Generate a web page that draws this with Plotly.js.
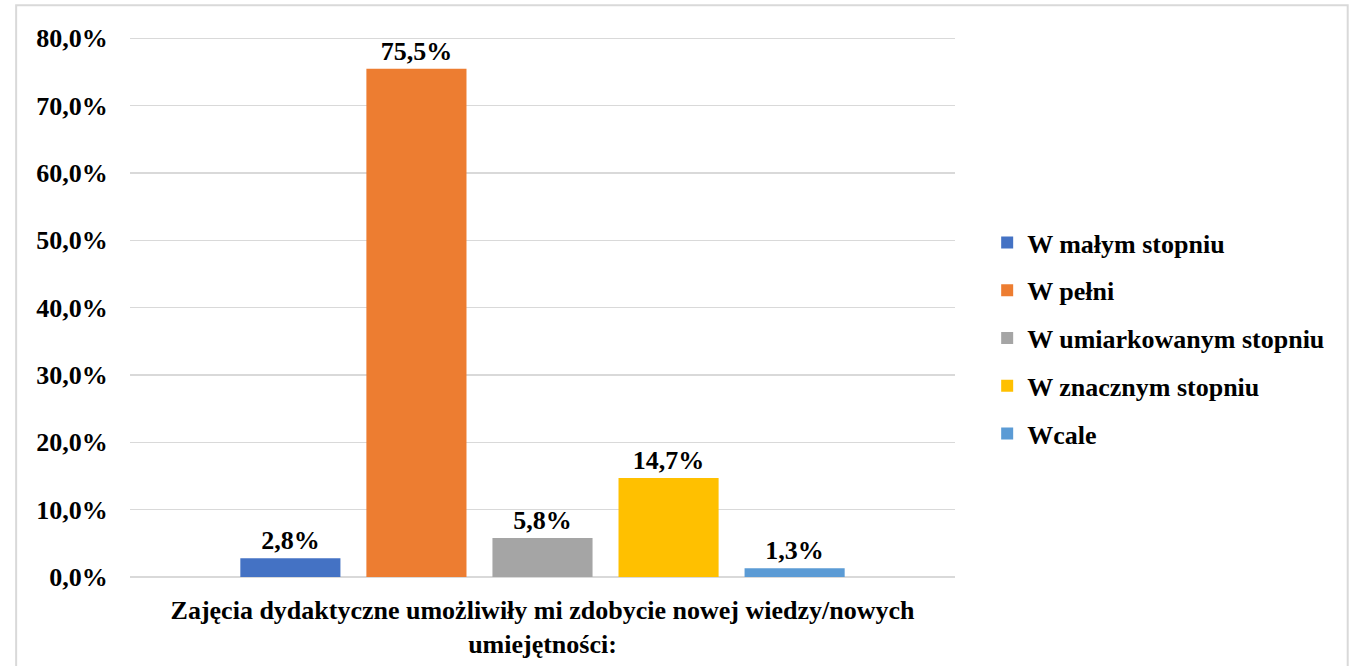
<!DOCTYPE html>
<html>
<head>
<meta charset="utf-8">
<script src="https://cdn.plot.ly/plotly-3.0.1.min.js"></script>
<style>html,body{margin:0;padding:0;background:#fff;}#chart{width:1368px;height:666px;}</style>
</head>
<body>
<div id="chart"></div>
<script>
const categories = ["Zajęcia dydaktyczne umożliwiły mi zdobycie nowej wiedzy/nowych umiejętności:"];
const categoryLabel = ["Zajęcia dydaktyczne umożliwiły mi zdobycie nowej wiedzy/nowych<br>umiejętności:"];
const seriesNames = ["W małym stopniu", "W pełni", "W umiarkowanym stopniu", "W znacznym stopniu", "Wcale"];
const seriesValues = [[2.8], [75.5], [5.8], [14.7], [1.3]];
const seriesColors = ["#4472C4", "#ED7D31", "#A5A5A5", "#FFC000", "#5B9BD5"];
const yTicks = [0, 10, 20, 30, 40, 50, 60, 70, 80];
const yTickLabels = ["0,0%", "10,0%", "20,0%", "30,0%", "40,0%", "50,0%", "60,0%", "70,0%", "80,0%"];

const FONT = "'Liberation Serif', 'Times New Roman', serif";
const FS = 26;
const b = s => '<b>' + s + '</b>';

const traces = seriesNames.map((name, i) => ({
  type: 'bar',
  name: b(name),
  x: categories,
  y: seriesValues[i],
  marker: {color: seriesColors[i]},
  texttemplate: '<b>%{y:.1f}%</b>',
  textposition: 'outside',
  cliponaxis: false,
  textfont: {family: FONT, size: FS, color: '#000'},
  legendgroup: 'g' + i,
  hoverinfo: 'none'
}));

const layout = {
  width: 1368, height: 666,
  margin: {l: 130, r: 413, t: 35, b: 89},
  paper_bgcolor: '#fff', plot_bgcolor: '#fff',
  separators: ', ',
  barmode: 'group',
  bargap: 0.236,
  bargroupgap: 0.206,
  font: {family: FONT, color: '#000'},
  xaxis: {
    type: 'category',
    tickvals: categories,
    ticktext: categoryLabel.map(t => t.split('<br>').map(b).join('<br>')),
    tickfont: {family: FONT, size: FS, color: '#000'},
    showgrid: false, zeroline: false, showline: false,
    ticks: 'outside', ticklen: 10, tickcolor: 'rgba(0,0,0,0)'
  },
  yaxis: {
    range: [0, 80.5],
    tickvals: yTicks,
    ticktext: yTickLabels.map(b),
    tickfont: {family: FONT, size: FS, color: '#000'},
    showgrid: true, gridcolor: '#d9d9d9', gridwidth: 1.5,
    zeroline: true, zerolinecolor: '#d9d9d9', zerolinewidth: 1.5,
    showline: false,
    ticks: 'outside', ticklen: 16, tickcolor: 'rgba(0,0,0,0)'
  },
  legend: {
    x: 1.039, xanchor: 'left', y: 0.44, yanchor: 'middle',
    font: {family: FONT, size: FS, color: '#000'},
    traceorder: 'grouped', tracegroupgap: 11,
    itemwidth: 30
  },
  shapes: [{
    type: 'rect', xref: 'paper', yref: 'paper',
    x0: -0.138, x1: 1.476, y0: -0.2, y1: 1.055,
    line: {color: '#d9d9d9', width: 2}, fillcolor: 'rgba(0,0,0,0)', layer: 'below'
  }]
};

Plotly.newPlot('chart', traces, layout, {displayModeBar: false, staticPlot: true});
</script>
</body>
</html>
